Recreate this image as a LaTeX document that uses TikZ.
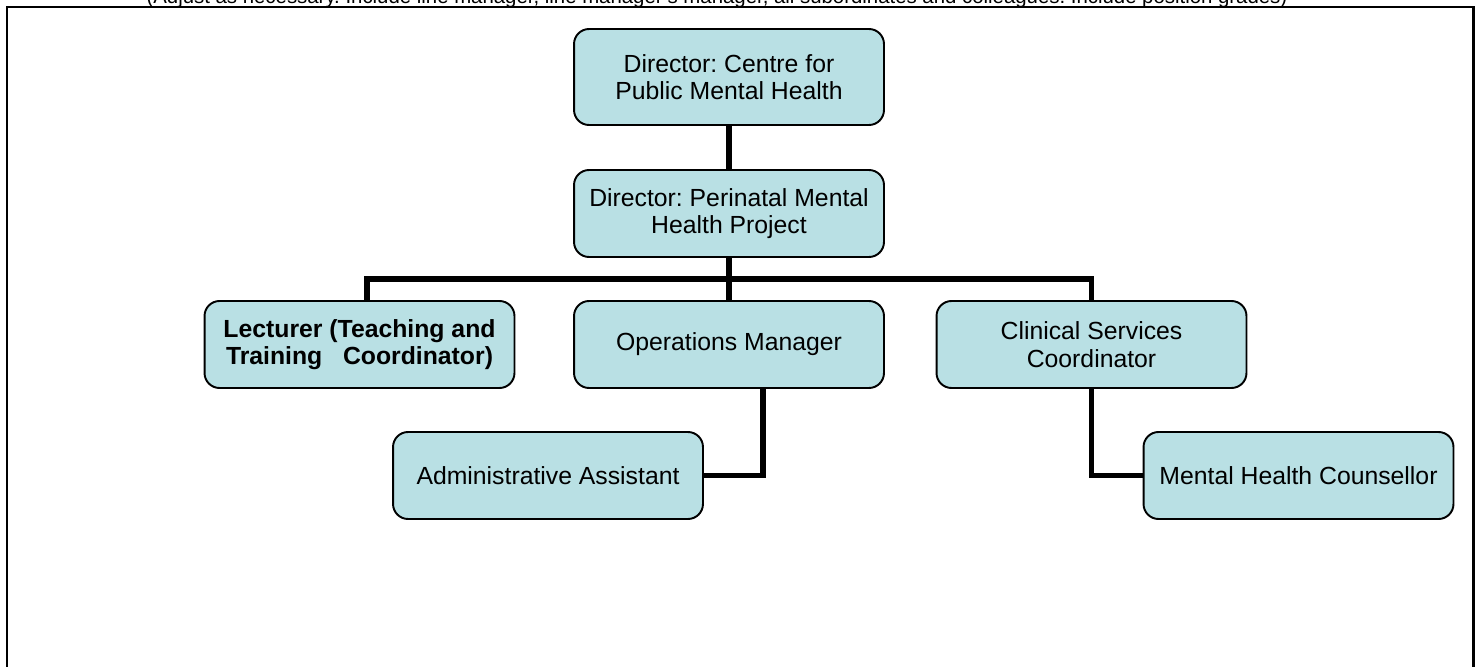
\documentclass[tikz,border=0pt]{standalone}
\usepackage{fontspec}
\setmainfont{Liberation Sans}
\usepackage{tikz}
\usetikzlibrary{positioning}
\usetikzlibrary{calc}
\frenchspacing
\definecolor{postfill}{RGB}{185,224,228}
\tikzstyle{post}=[rectangle,rounded corners=0.3cm,fill=postfill,draw=black,line width=1.1pt,minimum width=6.2cm,align=center,inner sep=2pt,font=\fontsize{14.1}{15.7}\selectfont]
\tikzstyle{link}=[line width=3.2pt,line join=miter]
\tikzstyle{frame}=[line width=1.7pt]

\begin{document}
\begin{tikzpicture}[x=0.02cm, y=-0.02cm]

  \useasboundingbox (0,0) rectangle (1480,666);
  \draw[frame] (7,7) rectangle (1473,700);

  \node[anchor=base, font=\fontsize{11.6}{15.7}\selectfont] (note) at (717,3.5)
    {(Adjust as necessary. Include line manager, line manager's manager, all subordinates and colleagues. Include position grades)};

  % posts of the chart
    \foreach \pos/\name/\h/\txt in {{(729,77)/cpmh/1.92cm/{Director: Centre for\\Public Mental Health}},
        {(729,213.5)/dpm/1.74cm/{Director: Perinatal Mental\\Health Project}},
        {(359.5,344.5)/lect/1.74cm/{\textbf{Lecturer (Teaching and}\\\textbf{Training\ \ \ Coordinator)}}},
        {(729,344.5)/ops/1.74cm/{Operations Manager}},
        {(1091.5,344.5)/clin/1.74cm/{Clinical Services\\Coordinator}},
        {(548,475.5)/admin/1.74cm/{Administrative Assistant}},
        {(1298.5,475.5)/mhc/1.74cm/{Mental Health Counsellor}}}
        \node[post, minimum height=\h] (\name) at \pos {\txt};

  \coordinate (bus) at (729,279);

  \draw[link] (cpmh) -- (dpm);
  \draw[link] (dpm) -- (ops);
  \draw[link] ([xshift=0.15cm]lect.north) |- (bus) -| (clin.north);
  \draw[link] ([xshift=0.68cm]ops.south) |- (admin.east);
  \draw[link] (clin.south) |- (mhc.west);

\end{tikzpicture}
\end{document}
